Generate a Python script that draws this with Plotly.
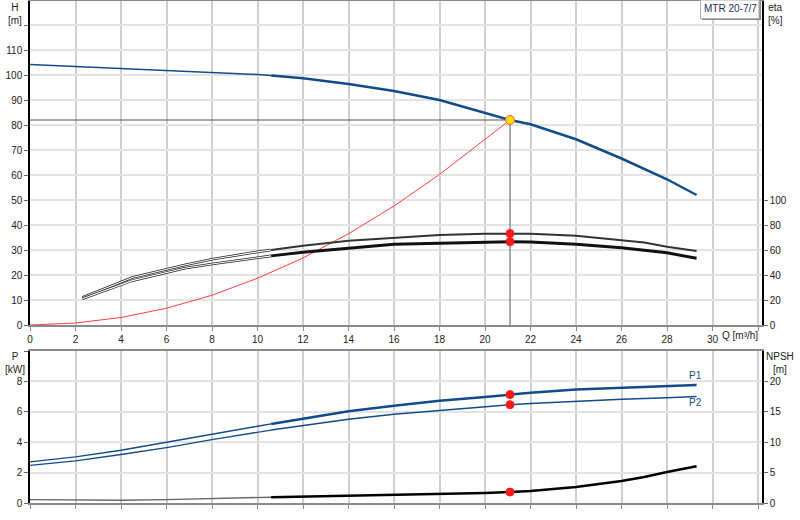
import plotly.graph_objects as go

# ---------------- data ----------------
Q_H = [0, 2, 4, 6, 8, 10, 10.6, 12, 14, 16, 18, 20, 21.1, 22, 24, 26, 28, 29.3]
H = [104.2, 103.4, 102.7, 102.0, 101.2, 100.2, 99.8, 98.7, 96.4, 93.6, 90.0, 84.8, 82.0, 80.3, 74.3, 66.6, 58.3, 52.0]

Q_ETA = [2.3, 4.5, 6.8, 8, 10, 10.6, 12, 14, 16, 18, 20, 21.1, 22, 24, 26, 27, 28, 29.3]
ETA1 = [22, 38, 48, 52.6, 58.5, 60, 63.4, 67.4, 69.8, 72, 73, 73.2, 73, 71.4, 68, 66, 62.6, 59.2]
ETA2 = [21, 35.5, 45.4, 48.8, 53.8, 55.3, 58.2, 61.4, 64.6, 65.4, 66.4, 66.6, 66.4, 64.6, 61.8, 60, 57.8, 53.4]

Q_SYS = [0, 2, 4, 6, 8, 10, 12, 14, 16, 18, 20, 21.1]
H_SYS = [0, 0.8, 3.0, 6.7, 11.9, 18.7, 26.8, 36.5, 47.6, 60.2, 74.3, 82.0]

Q_P = [0, 2, 4, 6, 8, 10, 10.6, 12, 14, 16, 18, 20, 21.1, 22, 24, 26, 28, 29.3]
P1 = [2.70, 3.03, 3.47, 4.01, 4.52, 5.05, 5.20, 5.55, 6.03, 6.40, 6.72, 6.97, 7.13, 7.26, 7.46, 7.59, 7.70, 7.76]
P2 = [2.48, 2.77, 3.19, 3.65, 4.17, 4.67, 4.80, 5.11, 5.51, 5.84, 6.10, 6.36, 6.47, 6.54, 6.69, 6.82, 6.93, 7.00]

Q_NPSH = [0, 2, 4, 6, 8, 10, 10.6, 12, 14, 16, 18, 20, 21.1, 22, 24, 26, 27, 28, 29.3]
NPSH = [0.56, 0.45, 0.45, 0.56, 0.72, 0.89, 0.95, 1.05, 1.15, 1.27, 1.43, 1.64, 1.80, 1.97, 2.63, 3.62, 4.28, 5.10, 6.04]

OP_Q = 21.1
OP_H = 82.0
OP_ETA1 = 73.2
OP_ETA2 = 66.6
OP_P1 = 7.13
OP_P2 = 6.47
OP_NPSH = 1.80

Q_TICKS = list(range(0, 33, 2))
H_TICKS = list(range(0, 121, 10))
ETA_TICKS = list(range(0, 101, 20))
P_TICKS = [0, 2, 4, 6, 8, 10]
NPSH_TICKS = [0, 5, 10, 15, 20]

PUMP_NAME = "MTR 20-7/7"
SPLIT = 10.6

# ---------------- layout helpers ----------------
W, HGT = 800, 520
ML, MR, MT, MB = 30, 38, 1, 17
PW = W - ML - MR
PH = HGT - MT - MB


def pxx(x):
    return (x - ML) / PW


def pxy(y):
    return (HGT - MB - y) / PH


def part(q, v, lo, hi):
    pts = [(a, b) for a, b in zip(q, v) if lo <= a <= hi]
    return [p[0] for p in pts], [p[1] for p in pts]


BLUE = "#124b8a"
FONT = "Liberation Sans"

fig = go.Figure()


def line(q, v, color, width, xa="x", ya="y"):
    fig.add_trace(go.Scatter(x=q, y=v, mode="lines", line=dict(color=color, width=width),
                             xaxis=xa, yaxis=ya, hoverinfo="skip", showlegend=False))


def dot(q, v, color, size, xa="x", ya="y", lc=None):
    fig.add_trace(go.Scatter(x=[q], y=[v], mode="markers",
                             marker=dict(color=color, size=size,
                                         line=dict(color=lc or color, width=1)),
                             xaxis=xa, yaxis=ya, hoverinfo="skip", showlegend=False))


# system curve
line(Q_SYS, H_SYS, "#ff4040", 1)

# eta curves (hollow part then solid part)
for vals, w in ((ETA1, 1.8), (ETA2, 2.8)):
    qa, va = part(Q_ETA, vals, 0, SPLIT)
    line(qa, va, "#222222", 2.6, ya="y2")
    line(qa, va, "#ffffff", 1.1, ya="y2")
    qb, vb = part(Q_ETA, vals, SPLIT, 99)
    line(qb, vb, "#111111" if w > 2 else "#333333", w, ya="y2")

# H curve
qa, va = part(Q_H, H, 0, SPLIT)
line(qa, va, BLUE, 1.5)
qb, vb = part(Q_H, H, SPLIT, 99)
line(qb, vb, BLUE, 2.5)

# operating point lines
line([0, OP_Q], [OP_H, OP_H], "#555555", 1)
line([OP_Q, OP_Q], [0, OP_H], "#555555", 1)

dot(OP_Q, OP_ETA1, "#ff1a1a", 8, ya="y2")
dot(OP_Q, OP_ETA2, "#ff1a1a", 8, ya="y2")
dot(OP_Q, OP_H, "#ffe000", 9, lc="#ff5a3c")

# power curves
for vals, w in ((P1, 2.5), (P2, 1.5)):
    qa, va = part(Q_P, vals, 0, SPLIT)
    line(qa, va, BLUE, 1.3, xa="x2", ya="y3")
    qb, vb = part(Q_P, vals, SPLIT, 99)
    line(qb, vb, BLUE, w, xa="x2", ya="y3")

# NPSH
qa, va = part(Q_NPSH, NPSH, 0, SPLIT)
line(qa, va, "#666666", 1.4, xa="x2", ya="y4")
qb, vb = part(Q_NPSH, NPSH, SPLIT, 99)
line(qb, vb, "#000000", 2.5, xa="x2", ya="y4")

dot(OP_Q, OP_P1, "#ff1a1a", 8, xa="x2", ya="y3")
dot(OP_Q, OP_P2, "#ff1a1a", 8, xa="x2", ya="y3")
dot(OP_Q, OP_NPSH, "#ff1a1a", 8, xa="x2", ya="y4")

xr = [0, PW / 22.75]
tf = dict(family=FONT, size=10, color="#222222")
common_x = dict(range=xr, tickvals=Q_TICKS, showgrid=True, gridcolor="#cfcfcf", gridwidth=1.5,
                showline=True, linecolor="#8a8a8a", linewidth=2, mirror=True, ticks="outside",
                ticklen=4, tickcolor="#8a8a8a", zeroline=False, tickfont=tf, automargin=False)
common_y = dict(zeroline=False, showline=True, linecolor="#000000", linewidth=1.5,
                ticks="outside", ticklen=4, tickcolor="#666666", tickfont=tf, automargin=False)

fig.update_layout(
    width=W, height=HGT, margin=dict(l=ML, r=MR, t=MT, b=MB, autoexpand=False),
    paper_bgcolor="white", plot_bgcolor="white", showlegend=False,
    font=dict(family=FONT, size=10, color="#222222"),
    xaxis=dict(domain=[0, 1], anchor="y",
               ticktext=[str(v) for v in Q_TICKS[:-1]] + [""], **common_x),
    yaxis=dict(domain=[pxy(325), 1], anchor="x", range=[0, 324 / 2.5],
               tickvals=H_TICKS, ticktext=[str(v) for v in H_TICKS[:-1]] + [""],
               showgrid=True, gridcolor="#e3e3e3", gridwidth=2, **common_y),
    yaxis2=dict(overlaying="y", side="right", anchor="x", range=[0, 2 * 324 / 2.5],
                tickvals=ETA_TICKS, showgrid=False, **common_y),
    xaxis2=dict(domain=[0, 1], anchor="y3", showticklabels=False, **common_x),
    yaxis3=dict(domain=[0, pxy(351)], anchor="x2", range=[0, 10],
                tickvals=P_TICKS, ticktext=[str(v) for v in P_TICKS[:-1]] + [""],
                showgrid=True, gridcolor="#e3e3e3", gridwidth=2, **common_y),
    yaxis4=dict(overlaying="y3", side="right", anchor="x2", range=[0, 25],
                tickvals=NPSH_TICKS, showgrid=False, **common_y),
)

ann = []


def label(text, x, y, xanchor="center", yanchor="middle", color="#222222", align="center"):
    ann.append(dict(text=text, x=pxx(x), y=pxy(y), xref="paper", yref="paper",
                    xanchor=xanchor, yanchor=yanchor, showarrow=False, align=align,
                    font=dict(family=FONT, size=10, color=color)))


label("H<br>[m]", 15, 0, yanchor="top")
label("eta<br>[%]", 775, 0, yanchor="top")
label("P<br>[kW]", 15, 349, yanchor="top")
label("NPSH<br>[m]", 780, 349, yanchor="top")
label("Q [m³/h]", 720, 335, xanchor="left")
label("P1", 695, 375.5, color=BLUE)
label("P2", 695, 402.5, color=BLUE)
label(PUMP_NAME, 730, 9, color="#1b2f55")
fig.update_layout(annotations=ann)

fig.update_layout(shapes=[
    dict(type="rect", xref="paper", yref="paper", x0=pxx(702), x1=pxx(761), y0=pxy(1), y1=pxy(20),
         line=dict(width=0), fillcolor="#8c8c8c", layer="above"),
    dict(type="rect", xref="paper", yref="paper", x0=pxx(700.5), x1=pxx(759), y0=pxy(0), y1=pxy(18.5),
         line=dict(width=1, color="#b0b0b0"), fillcolor="#ffffff", layer="above"),
])

fig.write_html("out.html", config={"displayModeBar": False},
               post_script="document.body.style.margin='0';document.body.style.overflow='hidden';")
